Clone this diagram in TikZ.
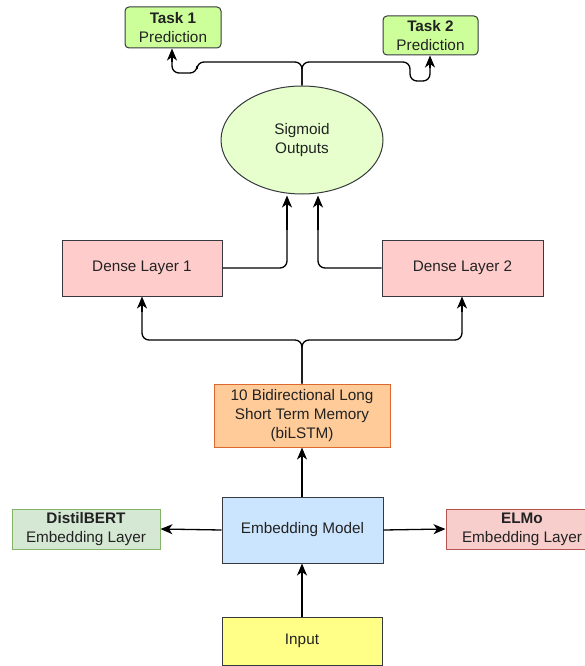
\documentclass[tikz,border=0pt]{standalone}
\usepackage{fontspec}
\setmainfont{Liberation Sans}
\usetikzlibrary{shapes.geometric,arrows.meta}
\definecolor{stk}{HTML}{36393D}
\definecolor{taskfill}{HTML}{CCFF99}
\definecolor{sigfill}{HTML}{E6FFCC}
\definecolor{densefill}{HTML}{FFCCCC}
\definecolor{lstmfill}{HTML}{FFCC99}
\definecolor{lstmstk}{HTML}{DD6A2C}
\definecolor{embfill}{HTML}{CCE5FF}
\definecolor{infill}{HTML}{FFFF88}
\definecolor{dbfill}{HTML}{D5E8D4}
\definecolor{dbstk}{HTML}{82B366}
\definecolor{elfill}{HTML}{F8CECC}
\definecolor{elstk}{HTML}{B85450}
\definecolor{txt}{HTML}{222222}
\begin{document}
\begin{tikzpicture}[x=1pt,y=-1pt,
  every node/.style={font=\fontsize{15.3}{19}\selectfont, text=txt, align=center, inner sep=0pt, line width=1pt},
  box/.style={draw=stk, rectangle},
  conn/.style={line width=1.3pt, black, rounded corners=7pt},
  arr/.style={line width=1.3pt, black, sharp corners, -{Stealth[length=12pt,width=10pt,inset=3.5pt]}}
]
\useasboundingbox (0,0) rectangle (584,666);
% nodes
\node[box, rounded corners=4pt, fill=taskfill, minimum width=96pt, minimum height=41pt] (t1) at (173,27.5) {\textbf{Task 1}\\Prediction};
\node[box, rounded corners=4pt, fill=taskfill, minimum width=95pt, minimum height=39pt] (t2) at (430.5,35.5) {\textbf{Task 2}\\Prediction};
\node[draw=stk, ellipse, fill=sigfill, minimum width=162pt, minimum height=108pt] (sig) at (302,140) {Sigmoid\\Outputs};
\node[box, fill=densefill, minimum width=160pt, minimum height=56pt] (d1) at (142,268) {Dense Layer 1};
\node[box, fill=densefill, minimum width=161pt, minimum height=56pt] (d2) at (462.5,268) {Dense Layer 2};
\node[draw=lstmstk, rectangle, fill=lstmfill, minimum width=176pt, minimum height=63pt] (lstm) at (302,415.5) {10 Bidirectional Long\\Short Term Memory\\(biLSTM)};
\node[box, fill=embfill, minimum width=161pt, minimum height=66pt] (emb) at (302.5,530) {Embedding Model};
\node[draw=dbstk, rectangle, fill=dbfill, minimum width=148pt, minimum height=40pt] (db) at (86,529) {\textbf{DistilBERT}\\Embedding Layer};
\node[draw=elstk, rectangle, fill=elfill, minimum width=152pt, minimum height=40pt] (el) at (522,529) {\textbf{ELMo}\\Embedding Layer};
\node[box, fill=infill, minimum width=160pt, minimum height=48pt] (in) at (302,641) {Input};
% connector waypoints
\coordinate (s1) at (302,62);
\coordinate (s2) at (302,340);
\coordinate (a1) at (172,62);
\coordinate (a2) at (430,68);
\coordinate (a3) at (287,230);
\coordinate (a4) at (318,230);
\coordinate (a5) at (142,312);
\coordinate (a6) at (462,312);
% connectors
\draw[conn] (sig.north) -- (s1) -- (197,62) -- (197,73) -- (172,73) -- (a1);
\draw[arr] (a1) -- (t1.south -| a1);
\draw[conn] (sig.north) -- (s1) -- (410,62) -- (410,81) -- (430,81) -- (a2);
\draw[arr] (a2) -- (t2.south -| a2);
\draw[conn] (d1.east) -| (a3);
\draw[arr] (a3) -- ([yshift=-1pt]sig.south -| a3);
\draw[conn] (d2.west) -| (a4);
\draw[arr] (a4) -- ([yshift=-1pt]sig.south -| a4);
\draw[conn] (lstm.north) -- (s2) -| (a5);
\draw[arr] (a5) -- (d1.south -| a5);
\draw[conn] (lstm.north) -- (s2) -| (a6);
\draw[arr] (a6) -- (d2.south -| a6);
\draw[arr] (emb.north -| 302,0) -- (lstm.south);
\draw[arr] (emb.west) -- (db.east);
\draw[arr] (emb.east) -- (el.west);
\draw[arr] (in.north) -- (emb.south -| in.north);
\end{tikzpicture}
\end{document}
